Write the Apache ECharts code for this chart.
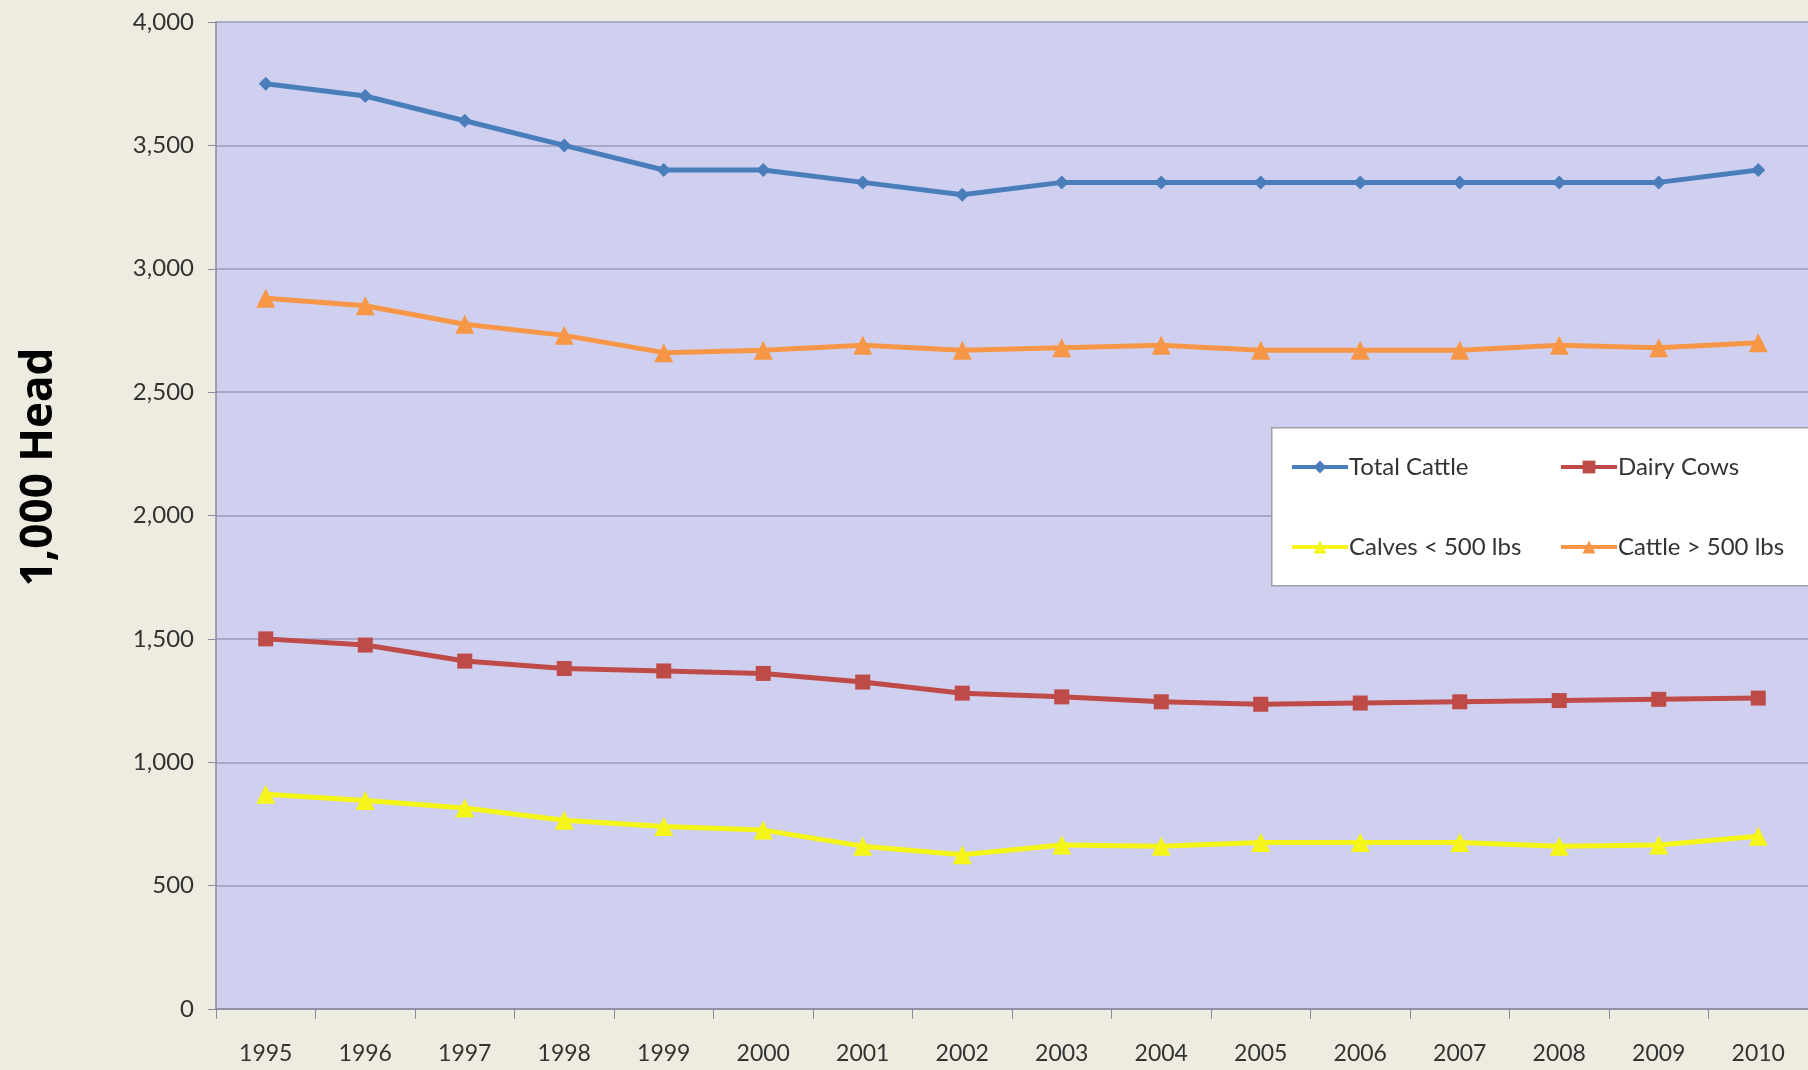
<!DOCTYPE html>
<html>
<head>
<meta charset="utf-8">
<script src="https://cdn.jsdelivr.net/npm/echarts@6/dist/echarts.min.js"></script>
<style>
html,body{margin:0;padding:0;background:#EEEBE0;}
#c{width:1808px;height:1070px;}
</style>
</head>
<body>
<div id="c"></div>
<script>
var years = ['1995','1996','1997','1998','1999','2000','2001','2002','2003','2004','2005','2006','2007','2008','2009','2010'];
var totalCattle = [3750,3700,3600,3500,3400,3400,3350,3300,3350,3350,3350,3350,3350,3350,3350,3400];
var dairyCows = [1500,1475,1410,1380,1370,1360,1325,1280,1265,1245,1235,1240,1245,1250,1255,1260];
var calves = [870,845,815,765,740,725,660,625,665,660,675,675,675,660,665,700];
var cattleOver = [2880,2850,2775,2730,2660,2670,2690,2670,2680,2690,2670,2670,2670,2690,2680,2700];
var yTitle = '1,000 Head';

var FONT = 'Lato, "Open Sans", sans-serif';
var chart = echarts.init(document.getElementById('c'), null, {renderer:'canvas'});

function mkSeries(name, data, color, symbol, size){
  return {
    name: name, type: 'line', data: data,
    symbol: symbol, symbolSize: size,
    lineStyle: {color: color, width: 5},
    itemStyle: {color: color},
    emphasis: {disabled: true},
    animation: false
  };
}
function mkLegend(name, left, top){
  return {
    data: [name], left: left, top: top, z: 20,
    itemWidth: 56, itemHeight: 16, itemGap: 0,
    lineStyle: {width: 4},
    textStyle: {fontFamily: FONT, fontSize: 24, color: '#333', padding: [0,0,0,-4]},
    selectedMode: false
  };
}

chart.setOption({
  backgroundColor: '#EEEBE0',
  animation: false,
  grid: {left: 216, right: -8, top: 22, bottom: 61, show: true, backgroundColor: '#CFD0EF', borderWidth: 0},
  graphic: [{
    type: 'rect', left: 1271, top: 427, z: 5,
    shape: {width: 560, height: 158},
    style: {fill: '#FFFFFF', stroke: '#A0A0A0', lineWidth: 1.5}
  }, {
    type: 'text', x: 39, y: 467, rotation: Math.PI / 2, z: 5,
    style: {text: yTitle, font: 'bold 44px "Open Sans", "DejaVu Sans", sans-serif', fill: '#000',
      align: 'center', verticalAlign: 'middle'}
  }],
  legend: [
    mkLegend('Total Cattle', 1285, 450),
    mkLegend('Dairy Cows', 1554, 450),
    mkLegend('Calves < 500 lbs', 1285, 530),
    mkLegend('Cattle > 500 lbs', 1554, 530)
  ],
  xAxis: {
    type: 'category', data: years, boundaryGap: true,
    axisLine: {lineStyle: {color: '#8A8A9A', width: 1.5}},
    axisTick: {show: true, length: 10, lineStyle: {color: '#8A8A9A'}},
    axisLabel: {fontFamily: FONT, fontSize: 23, color: '#333', margin: 33}
  },
  yAxis: {
    type: 'value', min: 0, max: 4000, interval: 500,
    axisLine: {show: true, lineStyle: {color: '#8A8A9A', width: 1.5}},
    axisTick: {show: true, length: 8, lineStyle: {color: '#8A8A9A'}},
    axisLabel: {fontFamily: FONT, fontSize: 24, color: '#333', margin: 22,
      formatter: function(v){ return v.toLocaleString('en-US'); }},
    splitLine: {lineStyle: {color: '#9A9ABA', width: 1.5}}
  },
  series: [
    mkSeries('Total Cattle', totalCattle, '#4A7EBB', 'diamond', 14),
    mkSeries('Dairy Cows', dairyCows, '#BE4B48', 'rect', 15),
    mkSeries('Calves < 500 lbs', calves, '#F5F51A', 'triangle', 19),
    mkSeries('Cattle > 500 lbs', cattleOver, '#F79646', 'triangle', 19)
  ]
});
</script>
</body>
</html>
